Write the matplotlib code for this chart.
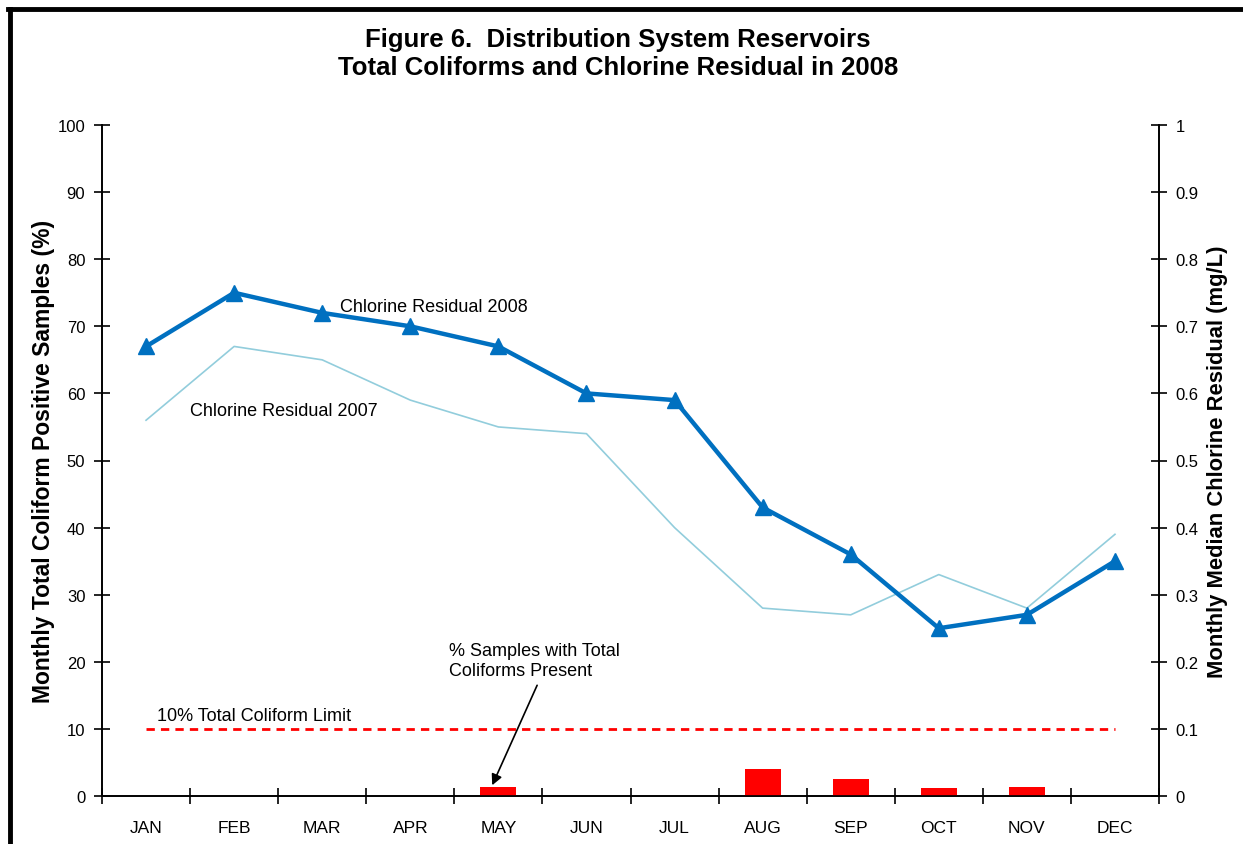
import numpy as np
import matplotlib.pyplot as plt
from matplotlib.lines import Line2D

plt.rcParams['font.family'] = ['Liberation Sans', 'DejaVu Sans']

months = ['JAN', 'FEB', 'MAR', 'APR', 'MAY', 'JUN', 'JUL', 'AUG', 'SEP', 'OCT', 'NOV', 'DEC']
coliform_pct = [0, 0, 0, 0, 1.4, 0, 0, 4.0, 2.6, 1.2, 1.4, 0]
chlorine_2008 = [0.67, 0.75, 0.72, 0.70, 0.67, 0.60, 0.59, 0.43, 0.36, 0.25, 0.27, 0.35]
chlorine_2007 = [0.56, 0.67, 0.65, 0.59, 0.55, 0.54, 0.40, 0.28, 0.27, 0.33, 0.28, 0.39]
limit = 10

x = np.arange(len(months))

fig = plt.figure(figsize=(12.43, 8.45), dpi=100)
ax = fig.add_axes([102/1243, 1-797/845, (1159-102)/1243, (797-126)/845])
ax2 = ax.twinx()

# bars + limit line on left axis
ax.bar(x, coliform_pct, width=0.41, color='#FF0000', zorder=3)
ax.plot([x[0], x[-1]], [limit, limit], color='#FF0000', lw=2, ls=(0, (3, 2.2)), zorder=3)

# chlorine on right axis
ax2.plot(x, chlorine_2007, color='#92CDDC', lw=1.2)
ax2.plot(x, chlorine_2008, color='#0070C0', lw=3.2, marker='^', ms=11)

ax.set_xlim(-0.5, 11.5)
ax.set_ylim(0, 100)
ax2.set_ylim(0, 1)
ax.set_yticks(np.arange(0, 101, 10))
ax2.set_yticks(np.arange(0, 1.01, 0.1))
ax2.set_yticklabels(['0'] + ['%.1f' % v for v in np.arange(0.1, 0.95, 0.1)] + ['1'])

ax.set_xticks(np.arange(-0.5, 12, 1))
ax.set_xticklabels([])
ax.set_xticks(x, minor=True)
ax.set_xticklabels(months, minor=True)
ax.tick_params(axis='x', which='major', direction='inout', length=12, width=1.2)
ax.tick_params(axis='x', which='minor', length=0, pad=17, labelsize=12.5)
ax.tick_params(axis='y', direction='inout', length=12, width=1.2, labelsize=12, pad=6)
ax2.tick_params(axis='y', direction='inout', length=12, width=1.2, labelsize=12, pad=6)

for a in (ax, ax2):
    a.spines['top'].set_visible(False)
    for s in ('left', 'right', 'bottom'):
        a.spines[s].set_linewidth(1.2)

ax.set_ylabel('Monthly Total Coliform Positive Samples (%)', fontsize=16.5, fontweight='bold', labelpad=2)
ax2.set_ylabel('Monthly Median Chlorine Residual (mg/L)', fontsize=15.8, fontweight='bold', labelpad=6)

fig.text(618/1243, 1-40/845, 'Figure 6.  Distribution System Reservoirs', ha='center', va='center',
         fontsize=18.5, fontweight='bold')
fig.text(618/1243, 1-68/845, 'Total Coliforms and Chlorine Residual in 2008', ha='center', va='center',
         fontsize=18.5, fontweight='bold')

ax2.text(2.2, 0.73, 'Chlorine Residual 2008', fontsize=13, va='center')
ax2.text(0.5, 0.575, 'Chlorine Residual 2007', fontsize=13, va='center')
ax.text(0.12, 12, '10% Total Coliform Limit', fontsize=13, va='center')
ax.text(3.44, 20.2, '% Samples with Total\nColiforms Present', fontsize=13, ha='left', va='center')
ax.annotate('', xy=(3.93, 1.6), xytext=(4.44, 16.5),
            arrowprops=dict(arrowstyle='-|>', color='black', lw=1.2, shrinkA=0, shrinkB=0,
                            mutation_scale=16))

# outer border (cropped chart frame)
fig.add_artist(Line2D([9.5/1243, 9.5/1243], [0, 1-9.5/845], transform=fig.transFigure, color='black', lw=3.5))
fig.add_artist(Line2D([8/1243, 1], [1-9.5/845, 1-9.5/845], transform=fig.transFigure, color='black', lw=3.5))

fig.savefig('out.png', dpi=100)
